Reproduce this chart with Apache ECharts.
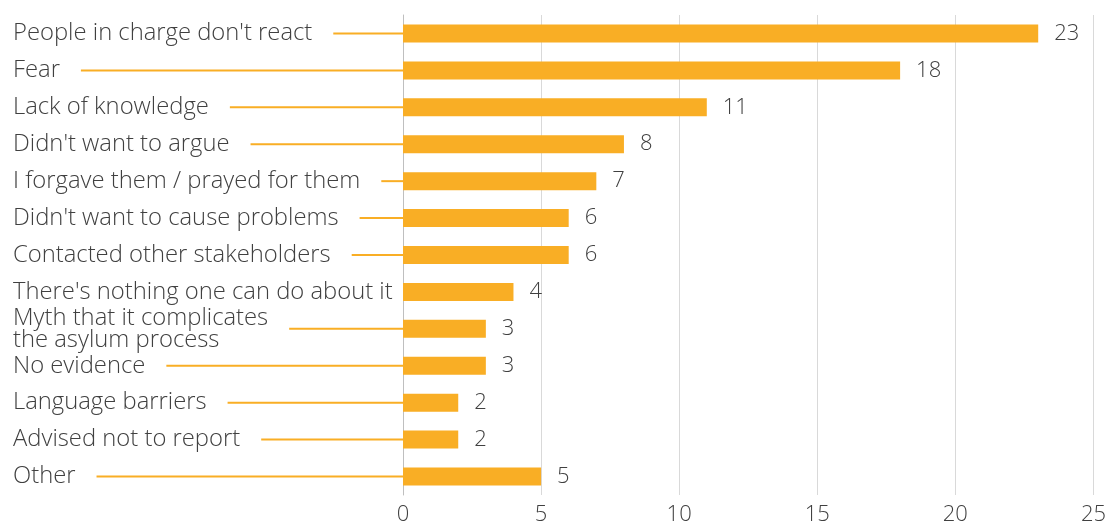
<!DOCTYPE html>
<html>
<head>
<meta charset="utf-8">
<script src="https://cdn.jsdelivr.net/npm/echarts@6/dist/echarts.min.js"></script>
<style>html,body{margin:0;padding:0;background:#fff}#c{width:1109px;height:526px}</style>
</head>
<body>
<div id="c"></div>
<script>
var categories = [
  "People in charge don't react",
  "Fear",
  "Lack of knowledge",
  "Didn't want to argue",
  "I forgave them / prayed for them",
  "Didn't want to cause problems",
  "Contacted other stakeholders",
  "There's nothing one can do about it",
  "Myth that it complicates\nthe asylum process",
  "No evidence",
  "Language barriers",
  "Advised not to report",
  "Other"
];
var values = [23, 18, 11, 8, 7, 6, 6, 4, 3, 3, 2, 2, 5];
var xTicks = [0, 5, 10, 15, 20, 25];

var FONT_FAMILY = '"Open Sans", "Noto Sans", sans-serif';
var FONT_SIZE = 23.8;
var FONT_WEIGHT = 300;
var ORANGE = '#F9AE25';
var TEXT = '#404040';
var LABEL_LEFT = 13;
var GRID_LEFT = 403;

var mctx = document.createElement('canvas').getContext('2d');
mctx.font = FONT_WEIGHT + ' ' + FONT_SIZE + 'px ' + FONT_FAMILY;
function textWidth(s) {
  return Math.max.apply(null, s.split('\n').map(function (l) { return mctx.measureText(l).width; }));
}

var chart = echarts.init(document.getElementById('c'), null, {renderer: 'canvas'});
chart.setOption({
  animation: false,
  grid: {left: GRID_LEFT, right: 14, top: 15, bottom: 26.5, containLabel: false},
  xAxis: {
    type: 'value', min: xTicks[0], max: xTicks[xTicks.length - 1], interval: 5,
    axisLine: {show: false}, axisTick: {show: false},
    splitLine: {show: true, lineStyle: {color: '#d9d9d9', width: 1}},
    axisLabel: {color: TEXT, fontFamily: FONT_FAMILY, fontWeight: FONT_WEIGHT, fontSize: 22, margin: 9}
  },
  yAxis: {
    type: 'category', data: categories, inverse: true,
    axisLine: {show: true, lineStyle: {color: '#bfbfbf', width: 1}},
    axisTick: {show: false}, splitLine: {show: false},
    axisLabel: {
      color: TEXT, fontFamily: FONT_FAMILY, fontWeight: FONT_WEIGHT, fontSize: FONT_SIZE,
      align: 'left', margin: GRID_LEFT - LABEL_LEFT, lineHeight: 22
    }
  },
  series: [
    {
      type: 'bar', data: values, barWidth: 18, itemStyle: {color: ORANGE}, z: 3,
      label: {show: true, position: 'right', distance: 16, color: TEXT,
        fontFamily: FONT_FAMILY, fontWeight: FONT_WEIGHT, fontSize: 22}
    },
    {
      type: 'custom', z: 2, silent: true,
      data: categories.map(function (c, i) { return [0, i]; }),
      encode: {x: 0, y: 1},
      renderItem: function (params, api) {
        var i = api.value(1);
        var p = api.coord([0, i]);
        var x1 = LABEL_LEFT + textWidth(categories[i]) + 21;
        if (x1 >= p[0]) return null;
        return {type: 'line', shape: {x1: x1, y1: p[1], x2: p[0], y2: p[1]},
          style: {stroke: ORANGE, lineWidth: 2}};
      }
    }
  ]
});
</script>
</body>
</html>
